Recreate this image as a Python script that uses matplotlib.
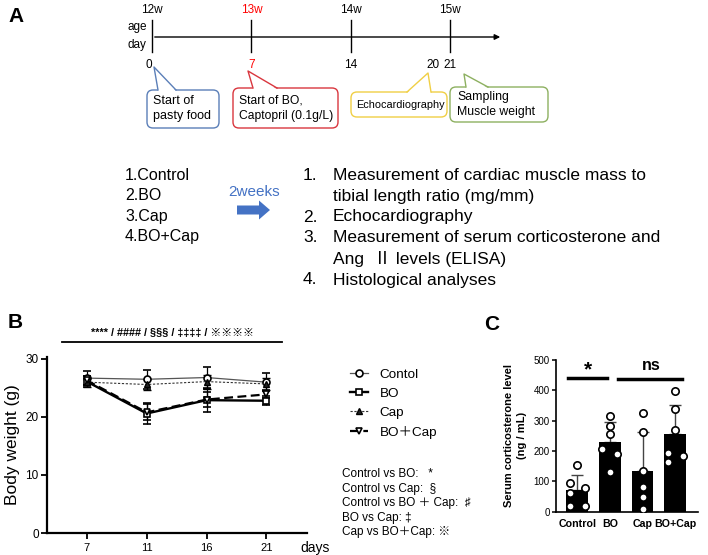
import numpy as np
import matplotlib
matplotlib.use('Agg')
import matplotlib.pyplot as plt
from matplotlib.patches import FancyBboxPatch, Polygon, FancyArrow

plt.rcParams['font.family'] = ['Liberation Sans', 'Noto Sans CJK JP', 'DejaVu Sans']

# ---- panel A data ----
weeks = ['12w', '13w', '14w', '15w']
week_days = [0, 7, 14, 21]
week_colors = ['black', 'red', 'black', 'black']
day_marks = [0, 7, 14, 20, 21]
day_colors = ['black', 'red', 'black', 'black', 'black']
groups = ['1.Control', '2.BO', '3.Cap', '4.BO+Cap']
outcomes = [('1.', 'Measurement of cardiac muscle mass to'),
            ('', 'tibial length ratio (mg/mm)'),
            ('2.', 'Echocardiography'),
            ('3.', 'Measurement of serum corticosterone and'),
            ('', 'Ang  Ⅱ levels (ELISA)'),
            ('4.', 'Histological analyses')]

# ---- panel B data ----
days_b = ['7', '11', '16', '21']
control_bw = [26.7, 26.5, 26.8, 26.0]
control_err = [1.2, 1.6, 1.8, 1.6]
bo_bw = [26.1, 20.6, 22.9, 22.8]
bo_err = [0.9, 1.8, 2.0, 0.8]
cap_bw = [26.0, 25.6, 26.1, 25.7]
cap_err = [0.8, 1.0, 1.2, 1.0]
bocap_bw = [26.3, 20.8, 23.0, 23.9]
bocap_err = [0.8, 1.4, 1.3, 0.7]
series_labels = ['Contol', 'BO', 'Cap', 'BO＋Cap']
comparisons = ['Control vs BO:   *', 'Control vs Cap:  §', 'Control vs BO ＋ Cap:  ♯',
               'BO vs Cap: ‡', 'Cap vs BO＋Cap: ※']

# ---- panel C data ----
groups_c = ['Control', 'BO', 'Cap', 'BO+Cap']
cort_mean = [72, 229, 135, 256]
cort_sd = [49, 66, 127, 96]
cort_pts = [[154, 94, 77, 63, 20, 20],
            [314, 283, 256, 207, 191, 132],
            [325, 264, 135, 80, 50, 8],
            [399, 339, 270, 193, 165, 184]]
jitter = [[0, -1, 1, -1, -1, 1],
          [0, 0, 0, -1, 1, 0],
          [0, 0, 0, 0, 0, 0],
          [0, 0, 0, -1, -1, 1]]

fig = plt.figure(figsize=(7.08, 5.55), dpi=100)
ax0 = fig.add_axes([0, 0, 1, 1])
ax0.set_xlim(0, 708)
ax0.set_ylim(555, 0)
ax0.axis('off')

def dx(d):
    return 152 + d * 14.2

# ---------- panel A ----------
ax0.text(8, 17, 'A', fontsize=15, fontweight='bold', va='center')
ax0.annotate('', xy=(503, 37), xytext=(dx(0), 37),
             arrowprops=dict(arrowstyle='-|>', lw=1, color='black', mutation_scale=8))
for w, d, c in zip(weeks, week_days, week_colors):
    ax0.plot([dx(d), dx(d)], [20, 52], color='black', lw=1)
    ax0.text(dx(d), 10, w, color=c, fontsize=8.5, ha='center', va='center')
ax0.text(137, 27, 'age', fontsize=8.5, ha='center', va='center')
ax0.text(137, 45, 'day', fontsize=8.5, ha='center', va='center')
for d, c in zip(day_marks, day_colors):
    xo = -3 if d == 0 else (-3 if d == 20 else 0)
    ax0.text(dx(d) + xo, 65, str(d), color=c, fontsize=8.5, ha='center', va='center')

def callout(x0, y0, x1, y1, base, tip, color, lines, fs, tx, dy):
    ax0.add_patch(FancyBboxPatch((x0, y0), x1 - x0, y1 - y0,
                                 boxstyle='round,pad=0,rounding_size=6',
                                 fc='white', ec=color, lw=1, zorder=2))
    ax0.add_patch(Polygon([(base[0], y0 + 1.2), tip, (base[1], y0 + 1.2)],
                          closed=True, fc='white', ec='none', zorder=3))
    ax0.plot([base[0], tip[0], base[1]], [y0, tip[1], y0], color=color, lw=1, zorder=4)
    for i, t in enumerate(lines):
        ax0.text(tx, (y0 + y1) / 2 + (i - (len(lines) - 1) / 2) * dy, t,
                 fontsize=fs, va='center', zorder=5)

callout(147, 90, 219, 128, (158, 176), (154, 67), '#5b7fb8',
        ['Start of', 'pasty food'], 9, 153, 15)
callout(233, 88, 338, 128, (253, 277), (248, 71), '#d9363e',
        ['Start of BO,', 'Captopril (0.1g/L)'], 8.7, 239, 15)
callout(351, 92, 447, 117, (407, 431), (428, 73), '#f0cf45',
        ['Echocardiography'], 7.8, 356, 15)
callout(450, 87, 548, 122, (466, 488), (464, 74), '#8db060',
        ['Sampling', 'Muscle weight'], 8.8, 457, 15)

for i, g in enumerate(groups):
    ax0.text(125, 176 + i * 20, g, fontsize=11.5, va='center')
ax0.text(254, 192, '2weeks', color='#4472c4', fontsize=11, ha='center', va='center')
ax0.add_patch(FancyArrow(237, 210, 22, 0, width=9, head_width=19, head_length=11,
                         length_includes_head=False, color='#4472c4', lw=0))
for i, (n, t) in enumerate(outcomes):
    y = 175 + i * 21
    if n:
        ax0.text(303, y, n, fontsize=12.5, va='center')
    ax0.text(333, y, t, fontsize=12.5, va='center')

# ---------- panel B ----------
ax0.text(8, 323, 'B', fontsize=15, fontweight='bold', va='center')
ax0.plot([62, 282], [342, 342], color='black', lw=1.3)
ax0.text(172, 333, '**** / #### / §§§ / ‡‡‡‡ / ※※※※', fontsize=7.8,
         fontweight='bold', ha='center', va='center')

axB = fig.add_axes([47 / 708, 22 / 555, 260 / 708, 176 / 555])
axB.patch.set_alpha(0)
xb = np.arange(len(days_b))
styles = [
    (control_bw, control_err, dict(color='#555555', lw=0.9, ls='-', marker='o',
                                   mfc='white', mec='black', ms=5, mew=1.2)),
    (bo_bw, bo_err, dict(color='black', lw=1.7, ls='-', marker='s',
                         mfc='white', mec='black', ms=5, mew=1.2)),
    (cap_bw, cap_err, dict(color='#333333', lw=0.8, ls=(0, (2, 1.5)), marker='^',
                           mfc='#222222', mec='black', ms=4.5, mew=1)),
    (bocap_bw, bocap_err, dict(color='black', lw=1.6, ls=(0, (4, 2)), marker='v',
                               mfc='white', mec='black', ms=5, mew=1.2)),
]
handles = []
for vals, err, st in styles:
    c = axB.errorbar(xb, vals, yerr=err, capsize=3, elinewidth=0.9,
                     ecolor='black', capthick=0.9, **st)
    handles.append(c[0])
axB.set_xlim(-0.667, 3.68)
axB.set_ylim(0, 30.34)
axB.set_yticks([0, 10, 20, 30])
axB.set_xticks(xb)
axB.set_xticklabels(days_b)
axB.tick_params(axis='y', labelsize=8.5, length=4, width=1.3, pad=2)
axB.tick_params(axis='x', labelsize=8, length=4, width=1.3, pad=3)
for s in ['top', 'right']:
    axB.spines[s].set_visible(False)
for s in ['left', 'bottom']:
    axB.spines[s].set_linewidth(1.6)
axB.set_ylabel('Body weight (g)', fontsize=12.5, labelpad=4)
ax0.text(300, 548, 'days', fontsize=10, va='center')

fig.legend(handles, series_labels, loc='upper left',
           bbox_to_anchor=(338 / 708, 1 - 356 / 555), frameon=False,
           fontsize=9.7, handlelength=1.3, handletextpad=0.9, labelspacing=0.5)
for i, t in enumerate(comparisons):
    ax0.text(342, 474.3 + i * 14.4, t, fontsize=8.5, va='center')

# ---------- panel C ----------
ax0.text(484, 325, 'C', fontsize=15, fontweight='bold', va='center')
axC = fig.add_axes([556 / 708, (555 - 511.7) / 555, 142 / 708, 151.7 / 555])
axC.patch.set_alpha(0)
xc = np.arange(len(groups_c))
axC.bar(xc, cort_mean, width=0.67, color='black', zorder=2)
axC.errorbar(xc, cort_mean, yerr=[np.zeros(len(cort_sd)), cort_sd], fmt='none',
             ecolor='#444444', elinewidth=1, capsize=4, capthick=1, zorder=1)
for i, pts in enumerate(cort_pts):
    xs = [xc[i] + 0.23 * j for j in jitter[i]]
    axC.scatter(xs, pts, s=28, facecolor='white', edgecolor='black', lw=1.2, zorder=3)
axC.set_xlim(-0.65, 3.7)
axC.set_ylim(0, 500)
axC.set_yticks([0, 100, 200, 300, 400, 500])
axC.set_xticks(xc)
axC.set_xticklabels(groups_c, fontweight='bold')
axC.tick_params(axis='y', labelsize=7, length=3, width=1.1, pad=1.5)
axC.tick_params(axis='x', labelsize=7.7, length=0, pad=5)
for s in ['top', 'right']:
    axC.spines[s].set_visible(False)
for s in ['left', 'bottom']:
    axC.spines[s].set_linewidth(1.2)
axC.set_ylabel('Serum corticosterone level\n(ng / mL)', fontsize=8, fontweight='bold',
               labelpad=5, linespacing=1.3)
ax0.plot([568, 607], [378, 378], color='black', lw=2.5)
ax0.plot([618, 682], [379, 379], color='black', lw=2.5)
ax0.text(588, 370, '*', fontsize=15, fontweight='bold', ha='center', va='center')
ax0.text(651, 366, 'ns', fontsize=11.5, fontweight='bold', ha='center', va='center')

fig.savefig('out.png', dpi=100)
